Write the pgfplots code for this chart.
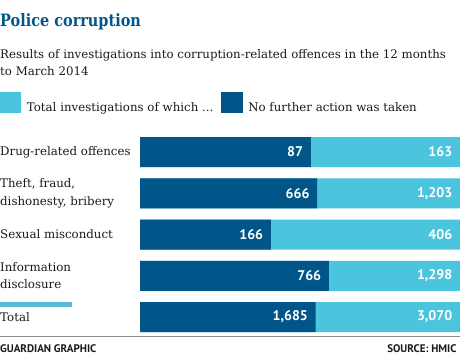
\documentclass[border=0pt]{standalone}
\usepackage{pgfplots}
\pgfplotsset{compat=1.18}
\usepackage{pgfplotstable}
\usepackage{fontspec}
\setmainfont{DejaVu Serif}
\newfontfamily\titlefont[FakeStretch=0.85]{DejaVu Serif}
\newfontfamily\agate{PT Sans}
\definecolor{gdark}{HTML}{005689}
\definecolor{glight}{HTML}{4BC4DE}
\definecolor{gline}{HTML}{5BBBD4}
\definecolor{gtext}{HTML}{1A1A1A}

\pgfplotstableread{
y nfa total nfapct totalpct
0 87 163 53.374 100
1 666 1,203 55.362 100
2 166 406 40.887 100
3 766 1,298 59.014 100
4 1,685 3,070 54.886 100
}\datatable

\begin{document}
\begin{tikzpicture}
\useasboundingbox (0,-358pt) rectangle (460pt,0pt);
\node[anchor=base west, inner sep=0, font=\titlefont\bfseries\fontsize{17}{20}\selectfont, text=gdark] at (0,-27pt) {Police corruption};
\node[anchor=base west, inner sep=0, text=gtext, font=\fontsize{11.8}{17}\selectfont] at (0,-59pt) {Results of investigations into corruption-related offences in the 12 months};
\node[anchor=base west, inner sep=0, text=gtext, font=\fontsize{11.8}{17}\selectfont] at (0,-76pt) {to March 2014};

\begin{axis}[
 at={(140pt,-131.4pt)}, anchor=north west,
 scale only axis, width=320pt, height=206.25pt,
 xbar, bar width=30pt, bar shift=0pt,
 xmin=0, xmax=100, ymin=-0.5, ymax=4.5, y dir=reverse,
 enlargelimits=false,
 axis line style={draw=none}, tick style={draw=none}, major tick length=0pt,
 xtick=\empty, ytick={0,1,2,3,4},
 yticklabels={Drug-related offences,{Theft, fraud,\\dishonesty, bribery},Sexual misconduct,{Information\\disclosure},Total},
 yticklabel style={anchor=west, align=left, xshift=-140pt, inner sep=0pt, text=gtext, font=\fontsize{11.8}{17.3}\selectfont},
 point meta=explicit symbolic,
 nodes near coords,
 every node near coord/.append style={anchor=east, xshift=-7.5pt, text=white, inner sep=0pt, font=\agate\bfseries\fontsize{14}{16}\selectfont},
 legend style={at={(axis description cs:-0.4375,1.1925)}, anchor=north west, draw=none, fill=none, inner sep=0pt, outer sep=0pt, font=\fontsize{11.8}{15}\selectfont, text=gtext, /tikz/every odd column/.append style={column sep=6pt}, /tikz/every even column/.append style={column sep=8pt}, nodes={inner sep=0pt}},
 legend columns=2,
 legend cell align=left,
 clip=false,
]
\addlegendimage{legend image code/.code={\fill[glight] (0pt,-3.7pt) rectangle (20.5pt,16.3pt);}}
\addlegendentry{Total investigations of which ...}
\addlegendimage{legend image code/.code={\fill[gdark] (0pt,-3.7pt) rectangle (20.5pt,16.3pt);}}
\addlegendentry{No further action was taken}
\addplot[fill=glight, draw=none] table[x=totalpct, y=y, meta=total] {\datatable};
\addplot[fill=gdark, draw=none] table[x=nfapct, y=y, meta=nfa] {\datatable};
\end{axis}

\draw[gline, line width=4.3pt] (0,-304.5pt) -- (72pt,-304.5pt);
\draw[black!45, line width=0.8pt] (0,-336.7pt) -- (460pt,-336.7pt);
\node[anchor=base west, inner sep=0, text=gtext, font=\agate\bfseries\fontsize{11}{12}\selectfont] at (0,-352.7pt) {GUARDIAN GRAPHIC};
\node[anchor=base east, inner sep=0, text=gtext, font=\agate\bfseries\fontsize{11}{12}\selectfont] at (456.7pt,-352.7pt) {SOURCE: HMIC};
\end{tikzpicture}
\end{document}
